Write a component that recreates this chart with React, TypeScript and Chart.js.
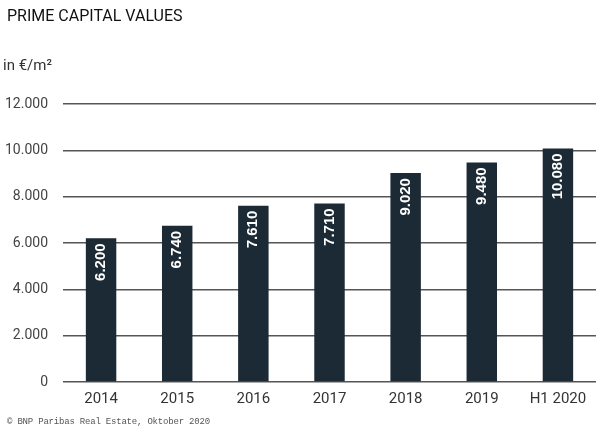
import { useEffect, useRef } from 'react';
import Chart from 'chart.js/auto';

const years = ['2014', '2015', '2016', '2017', '2018', '2019', 'H1 2020'];
const primeValues = [6200, 6740, 7610, 7710, 9020, 9480, 10080];
const yTickLabels = ['0', '2.000', '4.000', '6.000', '8.000', '10.000', '12.000'];

const BAR_COLOR = '#1c2a35';
const GRID_COLOR = '#555555';

// white rotated value inside the top of each bar
const barValueLabels = {
  id: 'barValueLabels',
  afterDatasetsDraw(chart: Chart) {
    const ctx = chart.ctx;
    const meta = chart.getDatasetMeta(0);
    ctx.save();
    ctx.fillStyle = '#ffffff';
    ctx.font = 'bold 15px "Liberation Sans", Arial, sans-serif';
    ctx.textAlign = 'right';
    ctx.textBaseline = 'middle';
    meta.data.forEach((bar: any, i: number) => {
      const label = primeValues[i].toLocaleString('de-DE');
      ctx.save();
      ctx.translate(bar.x, bar.y + 5);
      ctx.rotate(-Math.PI / 2);
      ctx.fillText(label, 0, 0);
      ctx.restore();
    });
    ctx.restore();
  }
};

export default function App() {
  const canvasRef = useRef<HTMLCanvasElement>(null);
  const chartRef = useRef<Chart | null>(null);

  useEffect(() => {
    if (!canvasRef.current) return;
    if (chartRef.current) chartRef.current.destroy();

    chartRef.current = new Chart(canvasRef.current, {
      type: 'bar',
      data: {
        labels: years,
        datasets: [{
          data: primeValues,
          backgroundColor: BAR_COLOR,
          categoryPercentage: 1,
          barPercentage: 0.4
        }]
      },
      options: {
        animation: false,
        responsive: true,
        maintainAspectRatio: false,
        layout: {
          padding: { left: 0, right: 4, top: 104, bottom: 34 }
        },
        plugins: {
          legend: { display: false },
          tooltip: { enabled: false }
        },
        scales: {
          x: {
            grid: { display: false },
            border: { display: false },
            ticks: {
              color: '#333333',
              padding: 0,
              font: { family: 'Roboto', size: 15 }
            }
          },
          y: {
            min: 0,
            max: 12000,
            // fixed axis width so the plot starts at x = 63
            afterFit: (scale: any) => { scale.width = 63; },
            border: { display: false },
            grid: { color: GRID_COLOR, lineWidth: 1.5, drawTicks: false },
            ticks: {
              stepSize: 2000,
              padding: 15,
              color: '#444444',
              font: { family: 'Roboto', size: 14 },
              callback: (_v: any, i: number) => yTickLabels[i]
            }
          }
        }
      },
      plugins: [barValueLabels]
    });

    return () => {
      if (chartRef.current) {
        chartRef.current.destroy();
        chartRef.current = null;
      }
    };
  }, []);

  return (
    <div style={{ position: 'absolute', top: 0, left: 0, width: 600, height: 442, background: '#fff' }}>
      <canvas ref={canvasRef} />
      <div style={{ position: 'absolute', left: 7, top: 6, fontFamily: 'Roboto', fontSize: 16, color: '#111' }}>
        PRIME CAPITAL VALUES
      </div>
      <div style={{ position: 'absolute', left: 3, top: 56, fontFamily: 'Roboto', fontSize: 15, color: '#333' }}>
        in €/m²
      </div>
      <div style={{ position: 'absolute', left: 7, top: 417, fontFamily: '"Liberation Mono", monospace', fontSize: 9, letterSpacing: -0.2, color: '#555' }}>
        © BNP Paribas Real Estate, Oktober 2020
      </div>
    </div>
  );
}
